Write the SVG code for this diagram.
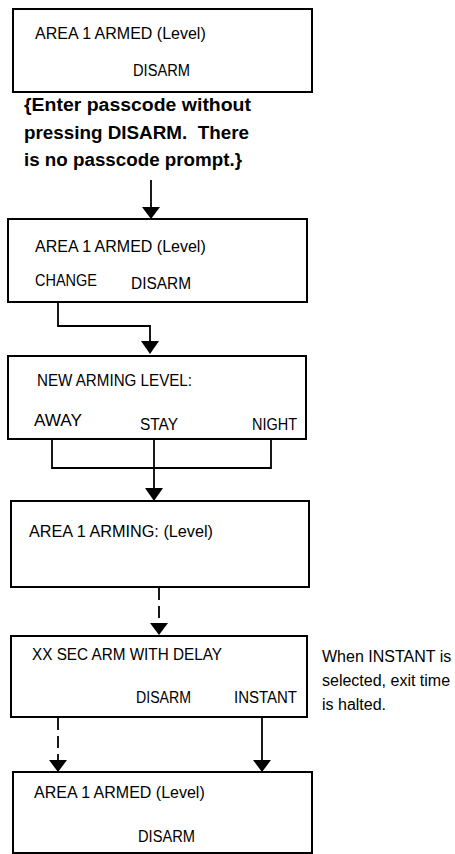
<svg xmlns="http://www.w3.org/2000/svg" width="455" height="854" viewBox="0 0 455 854">
<defs>
<style>
.box{fill:#fff;stroke:#000;stroke-width:2}
.t{font-family:"Liberation Sans",Arial,sans-serif;font-size:16px;fill:#000}
.b{font-family:"Liberation Sans",Arial,sans-serif;font-size:18px;font-weight:bold;fill:#000}
.c{fill:none;stroke:#000;stroke-width:1.8}
.d{fill:none;stroke:#000;stroke-width:1.8;stroke-dasharray:12 6}
</style>
<marker id="ah" viewBox="0 0 18 12" refX="9" refY="12" markerWidth="18" markerHeight="12" markerUnits="userSpaceOnUse" orient="auto-start-reverse">
<path d="M0,0 L18,0 L9,12 Z" fill="#000"/>
</marker>
</defs>
<rect width="455" height="854" fill="#fff"/>

<g id="connectors">
<line class="c" x1="151" y1="180" x2="151" y2="207"/>
<path d="M142,207 L160,207 L151,219 Z"/>
<polyline class="c" points="58,302 58,326 150,326 150,341"/>
<path d="M141,341 L159,341 L150,354 Z"/>
<polyline class="c" points="52,439 52,468 271,468 271,439"/>
<line class="c" x1="154" y1="439" x2="154" y2="488"/>
<path d="M145,488 L163,488 L154,501 Z"/>
<line class="d" x1="159" y1="588" x2="159" y2="623"/>
<path d="M150,623 L168,623 L159,635 Z"/>
<line class="d" x1="58" y1="718" x2="58" y2="760"/>
<path d="M49,760 L67,760 L58,772 Z"/>
<line class="c" x1="262" y1="718" x2="262" y2="760"/>
<path d="M253,760 L271,760 L262,772 Z"/>
</g>

<g id="n1">
<rect class="box" x="13" y="9" width="299" height="83"/>
<text class="t" x="35" y="39">AREA 1 ARMED (Level)</text>
<text class="t" x="133" y="76" textLength="57" lengthAdjust="spacingAndGlyphs">DISARM</text>
</g>

<g id="note1">
<text class="b" x="24" y="111" textLength="227" lengthAdjust="spacingAndGlyphs">{Enter passcode without</text>
<text class="b" x="24" y="139" xml:space="preserve" textLength="225" lengthAdjust="spacingAndGlyphs">pressing DISARM.  There</text>
<text class="b" x="24" y="166" textLength="218" lengthAdjust="spacingAndGlyphs">is no passcode prompt.}</text>
</g>

<g id="n2">
<rect class="box" x="8" y="219" width="299" height="83"/>
<text class="t" x="35" y="252">AREA 1 ARMED (Level)</text>
<text class="t" x="35" y="286" textLength="62" lengthAdjust="spacingAndGlyphs">CHANGE</text>
<text class="t" x="131" y="289" textLength="60" lengthAdjust="spacingAndGlyphs">DISARM</text>
</g>

<g id="n3">
<rect class="box" x="8" y="356" width="298" height="83"/>
<text class="t" x="37" y="386" textLength="155" lengthAdjust="spacingAndGlyphs">NEW ARMING LEVEL:</text>
<text class="t" x="34" y="426" textLength="48" lengthAdjust="spacingAndGlyphs">AWAY</text>
<text class="t" x="140" y="430" textLength="38" lengthAdjust="spacingAndGlyphs">STAY</text>
<text class="t" x="252" y="430" textLength="45" lengthAdjust="spacingAndGlyphs">NIGHT</text>
</g>

<g id="n4">
<rect class="box" x="11" y="501" width="298" height="86"/>
<text class="t" x="29" y="537" textLength="184" lengthAdjust="spacingAndGlyphs">AREA 1 ARMING: (Level)</text>
</g>

<g id="n5">
<rect class="box" x="11" y="636" width="296" height="81"/>
<text class="t" x="32" y="660" textLength="190" lengthAdjust="spacingAndGlyphs">XX SEC ARM WITH DELAY</text>
<text class="t" x="136" y="703" textLength="55" lengthAdjust="spacingAndGlyphs">DISARM</text>
<text class="t" x="234" y="703" textLength="63" lengthAdjust="spacingAndGlyphs">INSTANT</text>
</g>

<g id="note2">
<text class="t" x="322" y="662">When INSTANT is</text>
<text class="t" x="322" y="686">selected, exit time</text>
<text class="t" x="322" y="710">is halted.</text>
</g>

<g id="n6">
<rect class="box" x="13" y="772" width="299" height="81"/>
<text class="t" x="34" y="798">AREA 1 ARMED (Level)</text>
<text class="t" x="138" y="842" textLength="57" lengthAdjust="spacingAndGlyphs">DISARM</text>
</g>
</svg>
